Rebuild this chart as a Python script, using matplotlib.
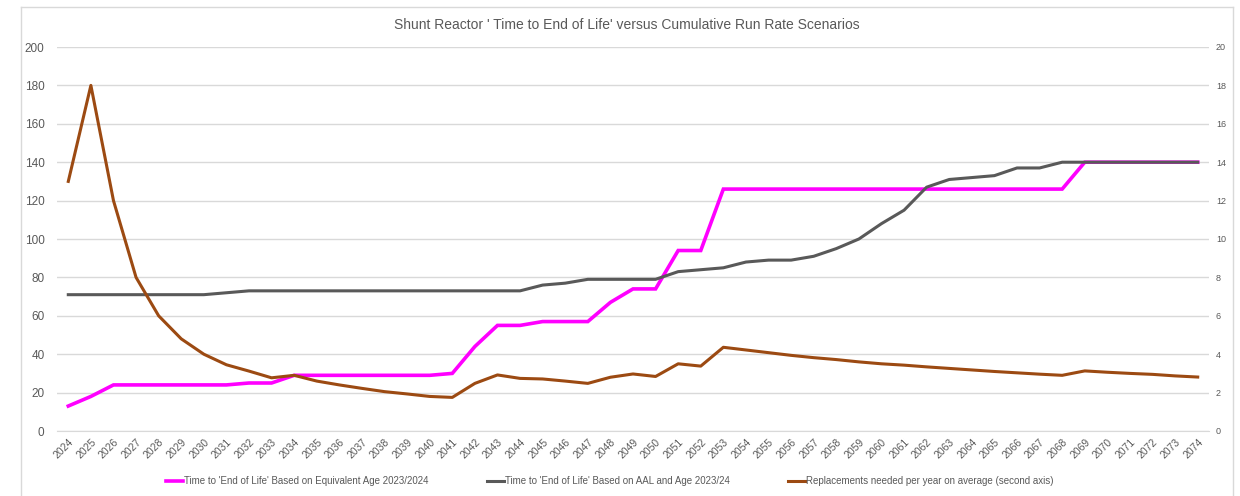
import matplotlib
matplotlib.use("Agg")
import matplotlib.pyplot as plt
from matplotlib.lines import Line2D

plt.rcParams['font.family'] = ['Liberation Sans Narrow', 'Liberation Sans', 'DejaVu Sans']

years = list(range(2024, 2075))

equiv_age = [13, 18, 24, 24, 24, 24, 24, 24, 25, 25,
             29, 29, 29, 29, 29, 29, 29, 30, 44, 55,
             55, 57, 57, 57, 67, 74, 74, 94, 94, 126,
             126, 126, 126, 126, 126, 126, 126, 126, 126, 126,
             126, 126, 126, 126, 126, 140, 140, 140, 140, 140,
             140]

aal_age = [71, 71, 71, 71, 71, 71, 71, 72, 73, 73,
           73, 73, 73, 73, 73, 73, 73, 73, 73, 73,
           73, 76, 77, 79, 79, 79, 79, 83, 84, 85,
           88, 89, 89, 91, 95, 100, 108, 115, 127, 131,
           132, 133, 137, 137, 140, 140, 140, 140, 140, 140,
           140]

replacements = [13.0, 18.0, 12.0, 8.0, 6.0, 4.8, 4.0, 3.45, 3.12, 2.77,
                2.9, 2.6, 2.4, 2.22, 2.05, 1.93, 1.8, 1.75, 2.48, 2.92,
                2.74, 2.71, 2.6, 2.48, 2.8, 2.97, 2.84, 3.5, 3.38, 4.36,
                4.22, 4.08, 3.94, 3.82, 3.72, 3.6, 3.5, 3.43, 3.34, 3.26,
                3.18, 3.1, 3.03, 2.96, 2.9, 3.13, 3.06, 3.0, 2.95, 2.87,
                2.81]

title = "Shunt Reactor ' Time to End of Life' versus Cumulative Run Rate Scenarios"
labels = ["Time to 'End of Life' Based on Equivalent Age 2023/2024",
          "Time to 'End of Life' Based on AAL and Age 2023/24",
          "Replacements needed per year on average (second axis)"]

c_mag = '#FF00FF'
c_grey = '#595959'
c_brown = '#9C4A12'
c_text = '#595959'
c_grid = '#D9D9D9'

fig = plt.figure(figsize=(12.4, 4.96), dpi=100)
ax = fig.add_axes([57/1240, 1 - 431/496, (1209 - 57)/1240, (431 - 47)/496])
ax2 = ax.twinx()

l1, = ax.plot(years, equiv_age, color=c_mag, lw=2.6, solid_joinstyle='miter')
l2, = ax.plot(years, aal_age, color=c_grey, lw=2.2)
l3, = ax2.plot(years, replacements, color=c_brown, lw=2.2)

ax.set_xlim(2023.5, 2074.5)
ax.set_ylim(0, 200)
ax2.set_ylim(0, 20)
ax.set_yticks(range(0, 201, 20))
ax2.set_yticks(range(0, 21, 2))
ax.set_xticks(years)
ax.set_xticklabels([str(y) for y in years], rotation=45, ha='right',
                   rotation_mode='anchor', fontsize=7.5, color=c_text)

ax.grid(axis='y', color=c_grid, lw=1)
ax.set_axisbelow(True)
for a in (ax, ax2):
    for s in a.spines.values():
        s.set_visible(False)
ax.spines['bottom'].set_visible(True)
ax.spines['bottom'].set_color(c_grid)
ax.tick_params(axis='x', length=0, pad=4)
ax.tick_params(axis='y', length=0, labelsize=8.5, labelcolor=c_text, pad=9)
ax2.tick_params(axis='y', length=0, labelsize=6.5, labelcolor=c_text, pad=5)

fig.text(627/1240, 1 - 25/496, title, ha='center', va='center',
         fontsize=10, color=c_text)

fig.legend([l1, l2, l3], labels, loc='center', bbox_to_anchor=(610/1240, 1 - 481/496),
           ncol=3, frameon=False, fontsize=7, handlelength=1.7,
           handletextpad=0.15, columnspacing=6.0, labelcolor=c_text)

bc = '#D9D9D9'
fig.add_artist(Line2D([21/1240, 1233/1240], [1 - 7/496, 1 - 7/496], color=bc, lw=1,
                      transform=fig.transFigure))
fig.add_artist(Line2D([21/1240, 21/1240], [0, 1 - 7/496], color=bc, lw=1,
                      transform=fig.transFigure))
fig.add_artist(Line2D([1233/1240, 1233/1240], [0, 1 - 7/496], color=bc, lw=1,
                      transform=fig.transFigure))

fig.savefig('out.png', dpi=100)
